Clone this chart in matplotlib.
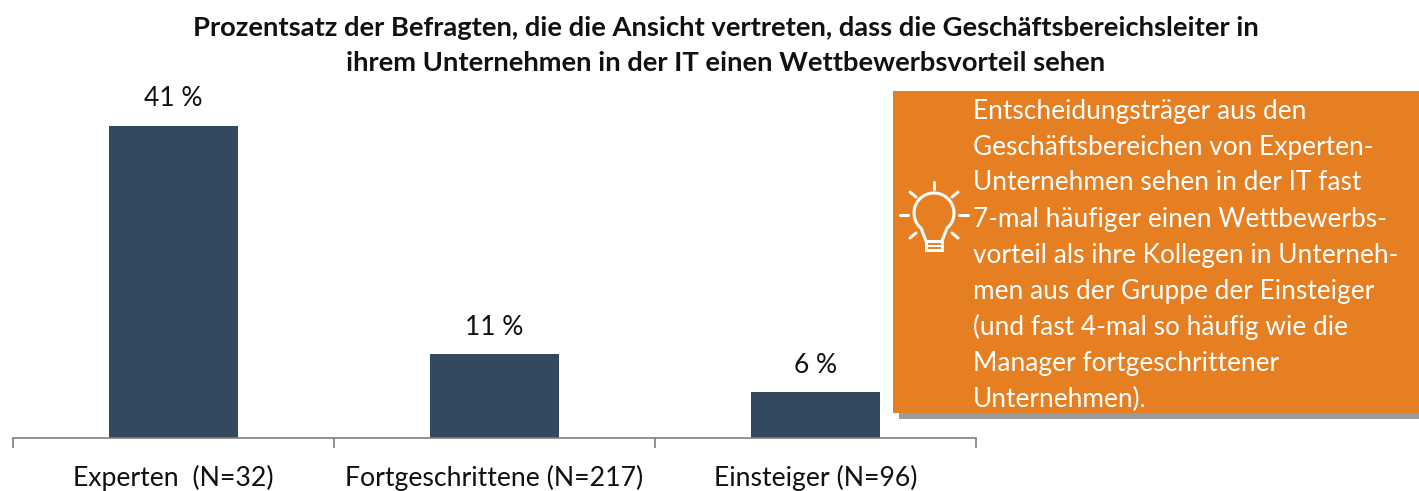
import matplotlib
matplotlib.use("Agg")
import matplotlib.pyplot as plt
import numpy as np
from matplotlib.patches import Rectangle

plt.rcParams["font.family"] = ["Lato", "DejaVu Sans"]

categories = ["Experten  (N=32)", "Fortgeschrittene (N=217)", "Einsteiger (N=96)"]
values = [41, 11, 6]
value_labels = ["41 %", "11 %", "6 %"]

title_lines = [
    "Prozentsatz der Befragten, die die Ansicht vertreten, dass die Geschäftsbereichsleiter in",
    "ihrem Unternehmen in der IT einen Wettbewerbsvorteil sehen",
]
box_lines = [
    "Entscheidungsträger aus den",
    "Geschäftsbereichen von Experten-",
    "Unternehmen sehen in der IT fast",
    "7-mal häufiger einen Wettbewerbs-",
    "vorteil als ihre Kollegen in Unterneh-",
    "men aus der Gruppe der Einsteiger",
    "(und fast 4-mal so häufig wie die",
    "Manager fortgeschrittener",
    "Unternehmen).",
]

W, H = 1419, 491
BAR = "#34495e"
ORANGE = "#e67e22"

fig = plt.figure(figsize=(W / 100, H / 100), dpi=100)

# bar axes, placed in pixels: x 13-976, baseline at y=438
ax = fig.add_axes([13 / W, (H - 438) / H, (976 - 13) / W, (438 - 60) / H])
pos = np.arange(len(values)) + 0.5
ax.bar(pos, values, width=0.4, color=BAR)
ax.set_xlim(0, 3)
ax.set_ylim(0, 378 / 7.61)
ax.set_xticks([0, 1, 2, 3])
ax.set_xticklabels([])
ax.tick_params(axis="x", length=7, width=1.2, color="#7f7f7f")
ax.set_yticks([])
for s in ["top", "left", "right"]:
    ax.spines[s].set_visible(False)
ax.spines["bottom"].set_color("#7f7f7f")
ax.spines["bottom"].set_linewidth(1.2)
ax.patch.set_alpha(0)

for p, v, lab in zip(pos, values, value_labels):
    ax.annotate(lab, (p, v), xytext=(0, 10.5), textcoords="offset points",
                ha="center", va="bottom", fontsize=19, color="#111111")
for p, c in zip(pos, categories):
    ax.annotate(c, (p, 0), xytext=(0, -29), textcoords="offset points",
                ha="center", va="center", fontsize=19.2, color="#111111")

# overlay in pixel coords for title, callout and icon
ov = fig.add_axes([0, 0, 1, 1])
ov.set_xlim(0, W)
ov.set_ylim(H, 0)
ov.axis("off")
ov.patch.set_alpha(0)

for y, line in zip([28, 63], title_lines):
    ov.text(726, y, line, ha="center", va="center", fontsize=19.7, fontweight="bold", color="#111111")

ov.add_patch(Rectangle((899, 97), 520, 322, color="#9b9b9b", lw=0))
ov.add_patch(Rectangle((893, 91), 526, 322, color=ORANGE, lw=0))

for i, line in enumerate(box_lines):
    ov.text(973, 111 + i * 36, line, ha="left", va="center", fontsize=18.9, color="white")

# light bulb icon
lw = 2.2
t = np.radians(np.linspace(230, -50, 60))
bx = 934 + 20 * np.cos(t)
by = 213 - 20 * np.sin(t)
bx = np.concatenate([[926], bx, [942]])
by = np.concatenate([[241], by, [241]])
ov.plot(bx, by, color="white", lw=lw, solid_capstyle="round")
ov.add_patch(Rectangle((926, 241), 16, 9, fill=False, ec="white", lw=lw))
ov.plot([926, 942], [245.5, 245.5], color="white", lw=1.5)
for x0, y0, x1, y1 in [(934, 182, 934, 189), (900, 215, 908, 215), (959, 215, 968, 215),
                       (910, 192, 916, 197), (958, 192, 952, 197),
                       (910, 238, 916, 233), (958, 238, 952, 233)]:
    ov.plot([x0, x1], [y0, y1], color="white", lw=lw, solid_capstyle="round")

fig.savefig("out.png", dpi=100)
